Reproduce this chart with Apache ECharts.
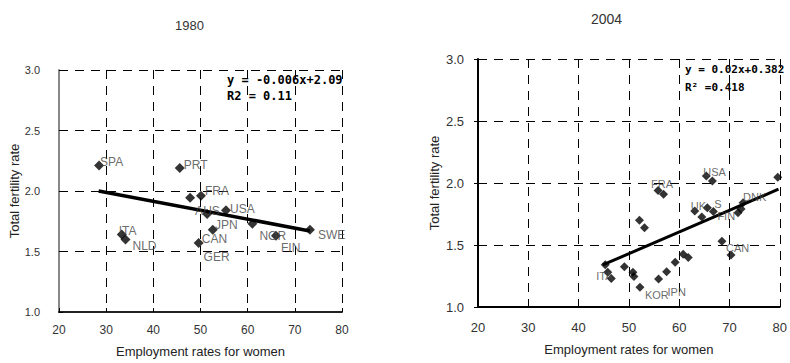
<!DOCTYPE html>
<html>
<head>
<meta charset="utf-8">
<script src="https://cdn.jsdelivr.net/npm/echarts@6/dist/echarts.min.js"></script>
<style>
html,body{margin:0;padding:0;background:#fff;}
#chart{width:790px;height:363px;}
</style>
</head>
<body>
<div id="chart"></div>
<script>
// ---------- Data ----------
var xTicks = [20, 30, 40, 50, 60, 70, 80];
var yTicks = [1.0, 1.5, 2.0, 2.5, 3.0];

// 1980
var names1980 = ['SPA','PRT','FRA','AUS','JPN','USA','CAN','GER','NOR','FIN','SWE','ITA','NLD'];
var emp1980   = [28.5, 45.6, 50.1, 47.8, 51.4, 55.4, 52.6, 49.6, 61.0, 66.0, 73.2, 33.3, 34.1];
var tfr1980   = [2.21, 2.19, 1.96, 1.945, 1.81, 1.84, 1.68, 1.57, 1.73, 1.63, 1.68, 1.64, 1.60];
var trend1980 = [[28.4, 2.00], [73.2, 1.67]];

// 2004
var names2004 = ['ITA','','','','','','KOR','','','FRA','','IPN','','','','','UK','','S','FIN','USA','','','CAN','','','DNK',''];
var emp2004   = [45.3, 45.8, 46.5, 49.1, 50.8, 51.0, 52.2, 52.1, 53.1, 55.8, 56.9, 55.9, 57.5, 59.2, 60.8, 61.8, 63.1, 64.5, 65.6, 66.8, 65.4, 66.6, 68.5, 70.3, 71.7, 72.3, 72.7, 79.6];
var tfr2004   = [1.34, 1.28, 1.23, 1.325, 1.28, 1.245, 1.16, 1.70, 1.64, 1.94, 1.91, 1.226, 1.285, 1.36, 1.425, 1.40, 1.774, 1.726, 1.80, 1.77, 2.056, 2.016, 1.53, 1.42, 1.76, 1.79, 1.84, 2.046];
var trend2004 = [[44.8, 1.339], [79.75, 1.95]];

// ---------- Label layout (pixel offsets from marker centre) ----------
var off1980 = {SPA:[1,-4],PRT:[4,-3],FRA:[4,-5],AUS:[5,13],JPN:[8,11],USA:[4,-1],CAN:[-11,9],GER:[5,14],NOR:[7,12],FIN:[5,12],SWE:[8,5],ITA:[-3,-4],NLD:[7,7]};
var off2004 = {USA:[-3,-4],FRA:[-7,-6],UK:[-4,-5],S:[7,-4],FIN:[4,4],DNK:[0,-6],CAN:[-5,-7],ITA:[-9,11],KOR:[5,8],IPN:[9,13]};

function pts(names, xs, ys, offs, fs) {
  return xs.map(function (x, i) {
    var n = names[i];
    var o = offs[n] || [0, 0];
    return {
      value: [x, ys[i]],
      name: n,
      label: {
        show: !!n, position: 'inside', align: 'left', verticalAlign: 'middle',
        offset: o, formatter: n, color: '#444', fontSize: fs,
        fontFamily: 'Liberation Sans, Arial, sans-serif'
      }
    };
  });
}

var chart = echarts.init(document.getElementById('chart'), null, {renderer: 'svg'});

function xAxisCfg(gi, labelFs, margin, nameGap, nameFs, axisColor) {
  return {
    gridIndex: gi, type: 'value', min: xTicks[0], max: xTicks[xTicks.length - 1], interval: 10,
    name: 'Employment rates for women', nameLocation: 'middle', nameGap: nameGap,
    nameTextStyle: {color: '#222', fontSize: nameFs, fontFamily: 'Liberation Sans, Arial, sans-serif'},
    axisLine: {show: true, onZero: false, lineStyle: {color: axisColor, width: 2}},
    axisTick: {show: true, inside: true, length: 4, lineStyle: {color: '#000'}},
    axisLabel: {color: '#333', fontSize: labelFs, margin: margin, fontFamily: 'Liberation Sans Narrow, Liberation Sans, Arial, sans-serif'},
    splitLine: {show: true, lineStyle: {color: '#000', type: [9, 7], width: 1}}
  };
}
function yAxisCfg(gi, labelFs, margin, nameGap, nameFs, axisColor, tickInside) {
  return {
    gridIndex: gi, type: 'value', min: yTicks[0], max: yTicks[yTicks.length - 1], interval: 0.5,
    name: 'Total fertility rate', nameLocation: 'middle', nameGap: nameGap,
    nameTextStyle: {color: '#222', fontSize: nameFs, fontFamily: 'Liberation Sans, Arial, sans-serif'},
    axisLine: {show: true, onZero: false, lineStyle: {color: axisColor, width: 2}},
    axisTick: {show: true, inside: tickInside, length: 4, lineStyle: {color: '#000'}},
    axisLabel: {color: '#333', fontSize: labelFs, margin: margin,
      fontFamily: 'Liberation Sans Narrow, Liberation Sans, Arial, sans-serif',
      formatter: function (v) { return v.toFixed(1); }},
    splitLine: {show: true, lineStyle: {color: '#000', type: [9, 7], width: 1}}
  };
}

var option = {
  backgroundColor: '#fff',
  animation: false,
  grid: [
    {left: 59, top: 70, width: 283, height: 244},
    {left: 478, top: 59, width: 305, height: 248}
  ],
  xAxis: [
    xAxisCfg(0, 12, 12, 33, 13, '#222'),
    xAxisCfg(1, 13, 14, 36, 13, '#000')
  ],
  yAxis: [
    yAxisCfg(0, 11, 19, 34, 13, '#888', true),
    yAxisCfg(1, 13, 14, 37, 13, '#000', false)
  ],
  graphic: [
    {type: 'text', left: 190 - 15, top: 19, style: {text: '1980', fill: '#333', font: '13px "Liberation Sans", Arial, sans-serif'}},
    {type: 'text', left: 607 - 16, top: 12, style: {text: '2004', fill: '#333', font: '14px "Liberation Sans", Arial, sans-serif'}},
    {type: 'text', left: 227, top: 74, style: {text: 'y = -0.006x+2.09', fill: '#000', font: 'bold 12px "DejaVu Sans Mono", monospace'}},
    {type: 'text', left: 227, top: 90, style: {text: 'R2 = 0.11', fill: '#000', font: 'bold 12px "DejaVu Sans Mono", monospace'}},
    {type: 'text', left: 685, top: 64, style: {text: 'y = 0.02x+0.382', fill: '#000', font: 'bold 11px "DejaVu Sans Mono", monospace'}},
    {type: 'text', left: 685, top: 82, style: {text: 'R² =0.418', fill: '#000', font: 'bold 11px "DejaVu Sans Mono", monospace'}}
  ],
  series: [
    {type: 'line', xAxisIndex: 0, yAxisIndex: 0, data: trend1980, symbol: 'none',
     lineStyle: {color: '#000', width: 3.5}, z: 3},
    {type: 'scatter', xAxisIndex: 0, yAxisIndex: 0, symbol: 'diamond', symbolSize: 10,
     itemStyle: {color: '#000'}, data: pts(names1980, emp1980, tfr1980, off1980, 12), z: 4},
    {type: 'line', xAxisIndex: 1, yAxisIndex: 1, data: trend2004, symbol: 'none',
     lineStyle: {color: '#000', width: 3}, z: 3},
    {type: 'scatter', xAxisIndex: 1, yAxisIndex: 1, symbol: 'diamond', symbolSize: 9,
     itemStyle: {color: '#000'}, data: pts(names2004, emp2004, tfr2004, off2004, 11), z: 4}
  ]
};
chart.setOption(option);
</script>
</body>
</html>
